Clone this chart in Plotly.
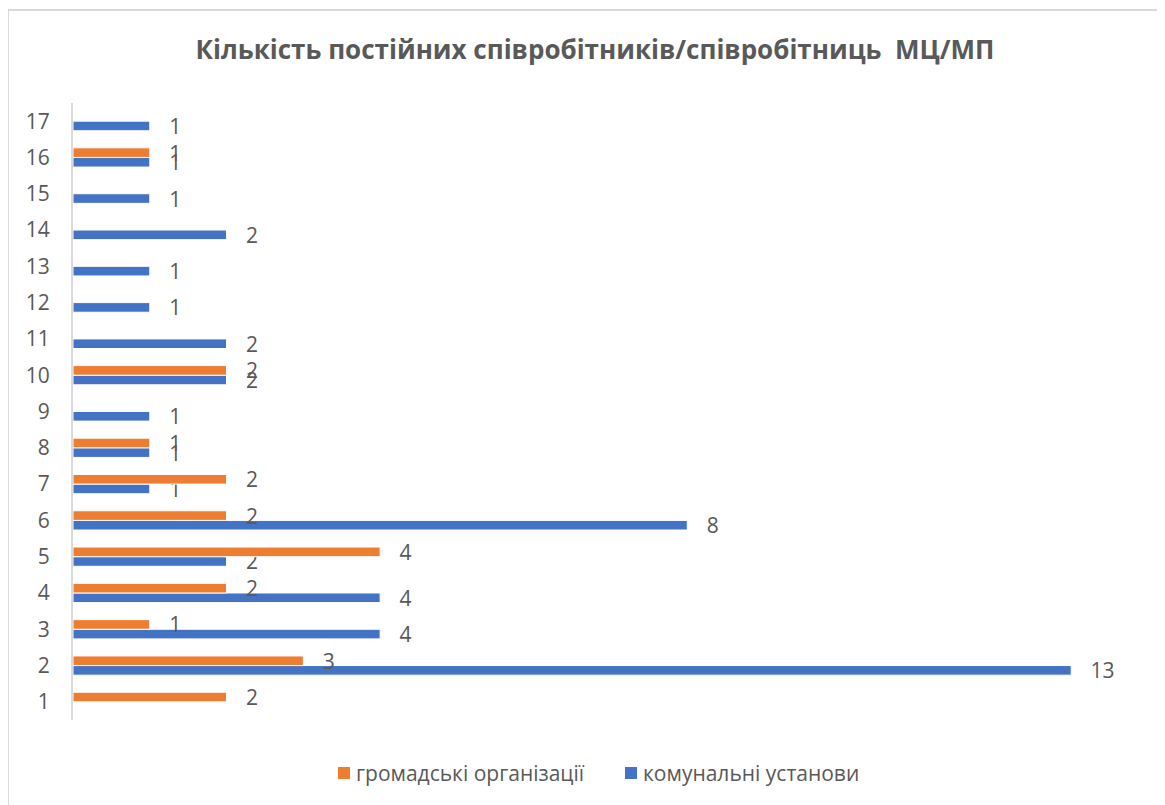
import plotly.graph_objects as go

# ── Data ──────────────────────────────────────────────────────────────────────
categories = [str(i) for i in range(1, 18)]
hromadski = [2, 3, 1, 2, 4, 2, 2, 1, None, 2, None, None, None, None, None, 1, None]
komunalni = [None, 13, 4, 4, 2, 8, 1, 1, 1, 2, 2, 1, 1, 2, 1, 1, 1]

TITLE = "Кількість постійних співробітників/співробітниць  МЦ/МП"
NAME_ORANGE = "громадські організації"
NAME_BLUE = "комунальні установи"

ORANGE = "#ED7D31"
BLUE = "#4472C4"
TEXT = "#595959"
FONT = "Open Sans, Noto Sans, sans-serif"

# page body has an 8px margin, so the figure is drawn 8px smaller
OFF = 8
W, H = 1165 - OFF, 805 - OFF
PL, PR, PT, PB = 73, 1148, 103, 720   # plot area in screen px


def px_x(px):
    return (px - PL) / (PR - PL)


def px_y(py):
    return (PB - py) / (PB - PT)


fig = go.Figure()
# blue first so it sits at the bottom of each group
fig.add_trace(go.Bar(
    y=categories, x=komunalni, name=NAME_BLUE, orientation="h",
    marker=dict(color=BLUE, line=dict(color="white", width=1)),
    text=komunalni, texttemplate="   %{x}", textposition="outside",
    constraintext="none", textfont=dict(size=21, color=TEXT), cliponaxis=False,
))
fig.add_trace(go.Bar(
    y=categories, x=hromadski, name=NAME_ORANGE, orientation="h",
    marker=dict(color=ORANGE, line=dict(color="white", width=1)),
    text=hromadski, texttemplate="   %{x}", textposition="outside",
    constraintext="none", textfont=dict(size=21, color=TEXT), cliponaxis=False,
))

# legend drawn by hand to get Excel-like square markers and spacing
legend_items = [(NAME_ORANGE, ORANGE, 338), (NAME_BLUE, BLUE, 625)]
shapes = [dict(type="rect", xref="paper", yref="paper",
               x0=px_x(8), x1=px_x(1250), y0=px_y(10), y1=px_y(900),
               line=dict(color="#D9D9D9", width=2), fillcolor="rgba(0,0,0,0)",
               layer="below")]
annotations = []
for name, color, x0 in legend_items:
    shapes.append(dict(type="rect", xref="paper", yref="paper",
                       x0=px_x(x0), x1=px_x(x0 + 12), y0=px_y(779), y1=px_y(767),
                       line=dict(width=0), fillcolor=color))
    annotations.append(dict(text=name, xref="paper", yref="paper", x=px_x(x0 + 16),
                            y=px_y(773), xanchor="left", yanchor="middle",
                            showarrow=False, font=dict(size=21, color=TEXT)))

fig.update_layout(
    width=W, height=H, autosize=False,
    margin=dict(l=PL - OFF, r=W - (PR - OFF), t=PT - OFF, b=H - (PB - OFF), autoexpand=False),
    paper_bgcolor="white", plot_bgcolor="white",
    font=dict(family=FONT, color=TEXT),
    barmode="group", bargap=0.47, bargroupgap=0,
    title=dict(text=f"<b>{TITLE}</b>", x=(595 - OFF) / W, xref="container", xanchor="center",
               y=1 - (50 - OFF) / H, yanchor="middle", font=dict(size=26, color=TEXT)),
    showlegend=False,
    shapes=shapes,
    annotations=annotations,
)
fig.update_xaxes(range=[0, 14], showgrid=False, zeroline=False, showticklabels=False,
                 showline=False, ticks="")
fig.update_yaxes(type="category", categoryorder="array", categoryarray=categories,
                 showgrid=False, showline=True, linecolor="#D9D9D9", linewidth=2,
                 ticks="", ticklabelstandoff=17, tickfont=dict(size=21, color=TEXT))

fig.write_html("out.html")
